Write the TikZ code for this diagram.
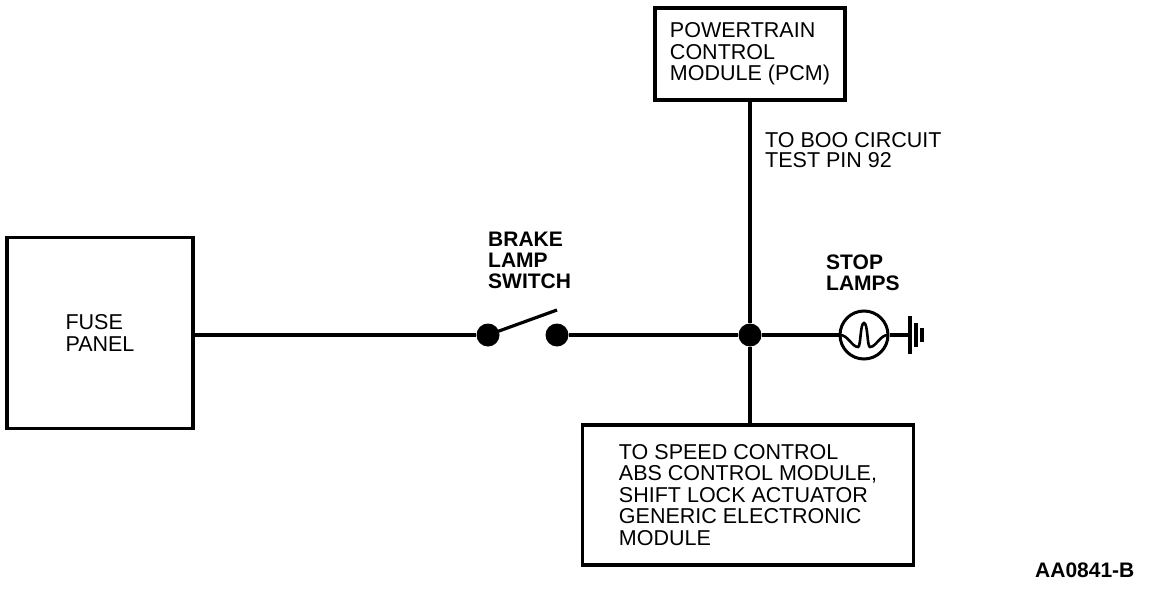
\documentclass[tikz,border=0pt]{standalone}
\usepackage{fontspec}
\setmainfont{Liberation Sans}
\usetikzlibrary{positioning,calc}

\tikzset{
  wire/.style={line width=3.2pt},
  unitbox/.style={draw, line width=3.2pt, align=left, inner sep=0pt},
  lbl/.style={anchor=north west, align=left, inner sep=0pt, font=\fontsize{21}{21}\selectfont\bfseries},
  contact/.style={circle, fill, inner sep=0pt, minimum size=23pt},
}

\begin{document}
\begin{tikzpicture}[x=1pt, y=-1pt, font=\fontsize{21.5}{21.5}\selectfont]
  \useasboundingbox (0,0) rectangle (1152,602);

  % Fuse panel
  \node [unitbox, minimum width=186pt, minimum height=191pt] (fuse) at (100,333) {FUSE\\PANEL};

  % Brake lamp switch
  \node [contact] (swl) at (488,335) {};
  \node [contact] (swr) at (557,335) {};
  \coordinate (swtip) at (557,310);
  \draw [wire] (fuse.east |- swl) -- (swl);
  \draw [wire] (swl.center) -- (swtip);
  \node [lbl] (brklbl) at (488,232) {BRAKE\\LAMP\\SWITCH};

  % Junction
  \node [contact] (junc) at (750,335) {};
  \draw [wire] (swr) -- (junc);

  % PCM
  \node [unitbox, minimum width=190pt, minimum height=92pt] (pcm) at (750,54) {POWERTRAIN\\CONTROL\\MODULE (PCM)};
  \draw [wire] (pcm) -- (junc);
  \node [lbl, font=\fontsize{21.5}{20}\selectfont] (boolbl) at (765,132) {TO BOO CIRCUIT\\TEST PIN 92};

  % Other modules
  \node [unitbox, minimum width=331pt, minimum height=140pt] (mods) at (748,495) {TO SPEED CONTROL\\ABS CONTROL MODULE,\\SHIFT LOCK ACTUATOR\\GENERIC ELECTRONIC\\MODULE};
  \draw [wire] (junc) -- (junc |- mods.north);

  % Stop lamps
  \node [circle, draw, line width=3pt, minimum size=48pt, inner sep=0pt] (lamp) at (864,335) {};
  \draw [wire] (junc) -- (lamp);
  \draw [line width=2.6pt, shift={(lamp.center)}] (-24,0) .. controls (-16,0) and (-12,12) .. (-6,12)
    .. controls (-3,12) and (-4,-12) .. (0,-12) .. controls (4,-12) and (3,12) .. (6,12)
    .. controls (12,12) and (16,0) .. (24,0);
  \coordinate (gnd) at (910,335);
  \draw [wire] (lamp) -- (gnd);
  \draw [wire] ($(gnd)+(0,-19)$) -- ++(0,38);
  \draw [wire] ($(gnd)+(6,-12)$) -- ++(0,24);
  \draw [wire] ($(gnd)+(12,-7)$) -- ++(0,14);
  \node [lbl] (stoplbl) at (826,255) {STOP\\LAMPS};

  % Drawing number
  \node [lbl] (dwgno) at (1035,563) {AA0841-B};
\end{tikzpicture}
\end{document}
